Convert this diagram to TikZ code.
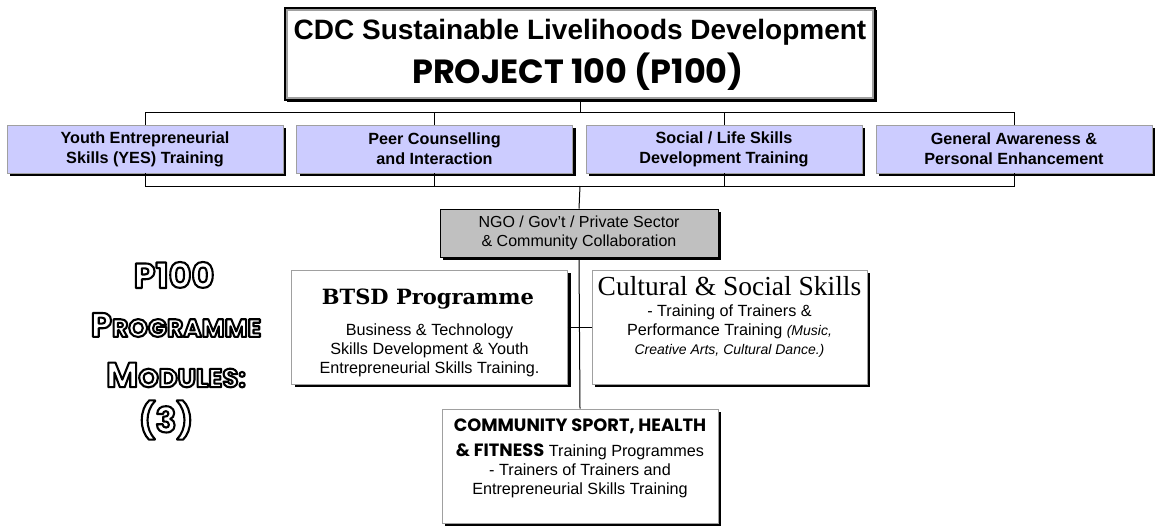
\documentclass[tikz,border=0pt]{standalone}
\usepackage{fontspec}
\setmainfont{Liberation Sans}
\newfontfamily\popfont{Poppins}
\newfontfamily\slabfont{DejaVu Serif}
\newfontfamily\decofont{Liberation Serif}
\usetikzlibrary{shadows}
\definecolor{lav}{HTML}{CCCCFF}
\definecolor{ngogray}{HTML}{C0C0C0}
\definecolor{bordgray}{HTML}{A0A0A0}
\tikzset{
  shad/.style={drop shadow={shadow xshift=3pt,shadow yshift=-3pt,fill=black,opacity=1}},
  lavbox/.style={shad,rectangle,draw=bordgray,fill=lav,line width=0.8pt,inner sep=0pt,
    minimum width=276pt,minimum height=48pt,align=center,
    font=\bfseries\fontsize{16.2}{20}\selectfont},
  ngobox/.style={shad,rectangle,draw=black,fill=ngogray,line width=0.8pt,inner sep=0pt,
    minimum width=278pt,minimum height=48pt,align=center,
    font=\fontsize{16}{19}\selectfont},
  whitebox/.style={shad,rectangle,draw=bordgray,fill=white,line width=0.8pt,inner sep=0pt,
    minimum width=276pt,minimum height=114pt},
  bodytext/.style={align=center,inner sep=0pt,font=\fontsize{16.2}{19}\selectfont},
  conn/.style={draw=black,line width=1pt},
  outl/.style={inner sep=0pt,font=\popfont\bfseries}
}
\newcommand{\outlinetext}[1]{{\color{white}\special{pdf:literal direct 2 Tr 2.1 w 0 G 1 j}#1\special{pdf:literal direct 0 Tr 1 w 0 j}}}
\begin{document}
\begin{tikzpicture}[x=1pt,y=-1pt]
\useasboundingbox (0,0) rectangle (1156,530);
\fill[white] (0,0) rectangle (1156,530);

% top title box
\node[rectangle,draw=black,line width=1.2pt,fill=white,inner sep=0pt,
  minimum width=590pt,minimum height=92pt,
  drop shadow={shadow xshift=1.5pt,shadow yshift=-1.5pt,fill=black,opacity=1}] (top) at (580,54) {};
\draw[bordgray,line width=2.5pt] ([xshift=2.6pt,yshift=-2.6pt]top.north west) rectangle ([xshift=-2.6pt,yshift=2.6pt]top.south east);
\node[inner sep=0pt,font=\bfseries\fontsize{28}{30}\selectfont] (title1) at (580,32) {CDC Sustainable Livelihoods Development};
\node[inner sep=0pt,font=\popfont\bfseries\fontsize{33.5}{35}\selectfont] (title2) at (578,72) {PROJECT 100 (P100)};

% first row
\node[lavbox] (b1) at (145,149) {Youth Entrepreneurial\\Skills (YES) Training};
\node[lavbox] (b2) at (434.5,149) {Peer Counselling\\and Interaction};
\node[lavbox] (b3) at (724,149) {Social / Life Skills\\Development Training};
\node[lavbox] (b4) at (1014,149) {General Awareness \&\\Personal Enhancement};

\coordinate (busA) at (580,112);
\coordinate (busB) at (580,186);
\draw[conn] (top.south) -- (busA);
\draw[conn] (b1.north) -- (b1.north |- busA) -- (b4.north |- busA) -- (b4.north);
\draw[conn] (b2.north) -- (b2.north |- busA);
\draw[conn] (b3.north) -- (b3.north |- busA);
\draw[conn] (b1.south) -- (b1.south |- busB) -- (b4.south |- busB) -- (b4.south);
\draw[conn] (b2.south) -- (b2.south |- busB);
\draw[conn] (b3.south) -- (b3.south |- busB);

% NGO box
\node[ngobox] (ngo) at (579,233) {NGO / Gov't / Private Sector\\\& Community Collaboration};
\draw[conn] (busB) -- (ngo.north);

% module boxes
\node[whitebox] (btsd) at (429.5,327) {};
\node[whitebox,minimum width=275pt] (cult) at (729.5,327) {};
\node[whitebox] (comm) at (580,466) {};
\draw[conn] (ngo.south) -- (comm.north);
\draw[conn] (btsd.east) -- (cult.west);

\node[inner sep=0pt,font=\slabfont\bfseries\fontsize{21}{22}\selectfont] (btsdT) at (428,299) {BTSD Programme};
\node[bodytext] (btsdB) at (429.5,350) {Business \& Technology\\Skills Development \& Youth\\Entrepreneurial Skills Training.};

\node[inner sep=0pt,font=\decofont\fontsize{27.5}{28}\selectfont] (cultT) at (729.5,286) {Cultural \& Social Skills};
\node[bodytext] (cultB) at (729.5,331) {- Training of Trainers \&\\Performance Training {\itshape\fontsize{14}{19}\selectfont(Music,}\\{\itshape\fontsize{14}{19}\selectfont Creative Arts, Cultural Dance.)}};

\node[inner sep=0pt,font=\popfont\bfseries\fontsize{17.8}{18}\selectfont] (commT) at (580,426) {COMMUNITY SPORT, HEALTH};
\node[bodytext] (commB) at (580,471) {{\popfont\bfseries\fontsize{17.8}{18}\selectfont \& FITNESS} Training Programmes\\- Trainers of Trainers and\\Entrepreneurial Skills Training};

% left outline text
\node[outl,font=\popfont\bfseries\fontsize{35}{36}\selectfont] (m1) at (174,275) {\outlinetext{P100}};
\node[outl] (m2) at (176,325) {\outlinetext{\fontsize{34}{36}\selectfont P\fontsize{25}{36}\selectfont ROGRAMME}};
\node[outl] (m3) at (176,375) {\outlinetext{\fontsize{35}{36}\selectfont M\fontsize{26}{36}\selectfont ODULES:}};
\node[outl,font=\popfont\bfseries\fontsize{35}{36}\selectfont] (m4) at (166,420) {\outlinetext{(3)}};
\end{tikzpicture}
\end{document}
